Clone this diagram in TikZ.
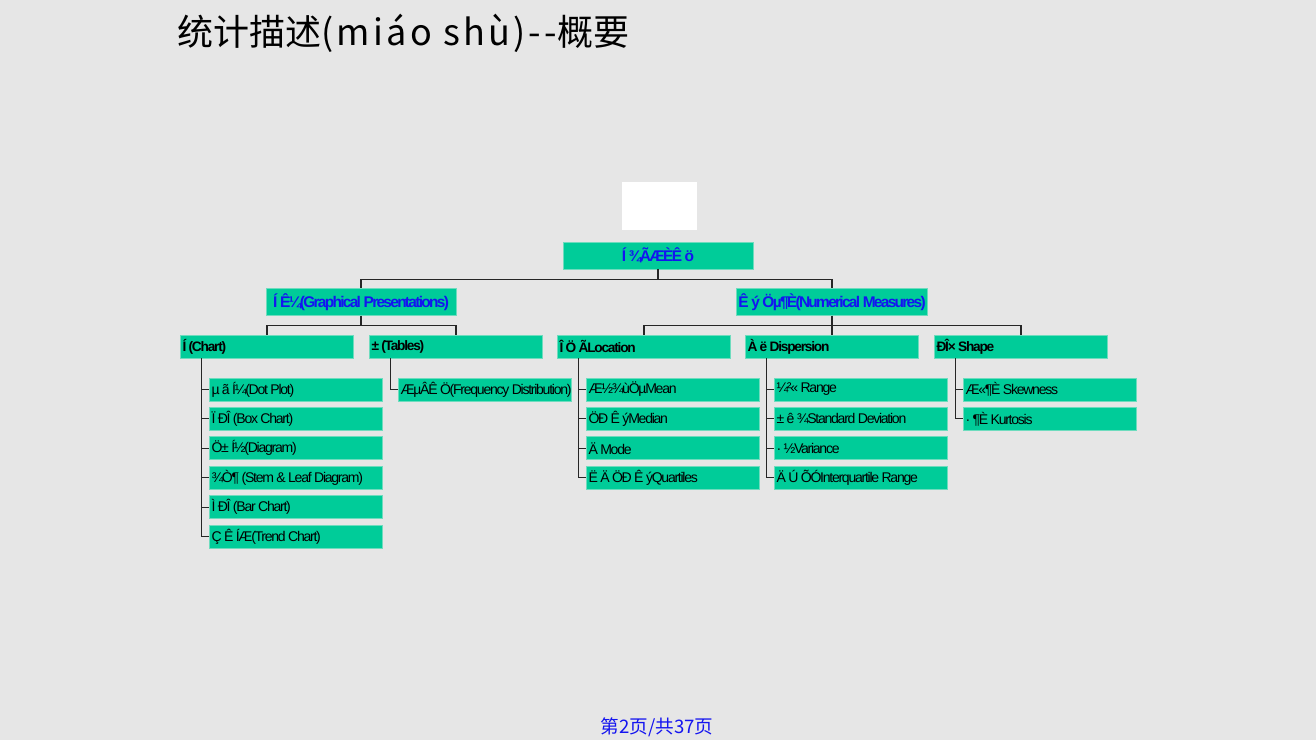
\documentclass[tikz,border=0pt]{standalone}
\usepackage{fontspec}
\setmainfont{Liberation Sans}
\newfontfamily\cjk{Noto Sans CJK SC}
\newfontfamily\cjkwide[LetterSpace=9]{Noto Sans CJK SC}
\newfontfamily\boxfont[LetterSpace=-9]{Liberation Sans}
\newfontfamily\headfont[LetterSpace=-11]{Liberation Sans}
\newcommand\tightsp{\spaceskip=0.17em\relax}
\usetikzlibrary{positioning,calc}
\definecolor{slidebg}{RGB}{230,230,230}
\definecolor{boxgreen}{RGB}{0,204,153}
\definecolor{boxedge}{RGB}{110,220,190}
\definecolor{headblue}{RGB}{20,20,240}
\tikzset{
  %% top boxes
  rootbox/.style={draw=boxedge, fill=boxgreen, line width=0.5pt,
    minimum width=3.8cm, minimum height=0.54cm, inner sep=1pt,
    font=\headfont\fontsize{8.8}{10}\selectfont\bfseries, text=headblue,
    execute at begin node=\tightsp},
  %% category boxes
  catbox/.style={draw=boxedge, fill=boxgreen, line width=0.5pt,
    minimum height=0.46cm, text width=3.38cm, inner sep=1pt, align=left,
    font=\boxfont\fontsize{7.8}{9}\selectfont\bfseries,
    execute at begin node=\tightsp},
  %% leaf boxes
  leafbox/.style={draw=boxedge, fill=boxgreen, line width=0.5pt,
    minimum height=0.46cm, text width=3.38cm, inner sep=1pt, align=left,
    font=\boxfont\fontsize{8}{9}\selectfont,
    execute at begin node=\tightsp},
  tree/.style={draw=black!85, line width=0.6pt},
}
\begin{document}
\begin{tikzpicture}[x=0.02cm, y=-0.02cm]
\fill[slidebg] (0,0) rectangle (1316,740);

%% Title
\node[anchor=west, font=\cjk\fontsize{20.5}{24}\selectfont, inner sep=0pt] (title) at (177,33)
  {统计描述{\cjkwide(miáo shù)--}概要};

%% blank picture placeholder
\node[fill=white, minimum width=1.5cm, minimum height=0.96cm, inner sep=0pt] (blank) at (659.5,206) {};

%% Root and first level
\node[rootbox] (root) at (658,255.5) {Í ¾ÃÆÈÊ ö};
\node[rootbox] (graph) at (361,302) {Í Ê¼(Graphical Presentations)};
\node[rootbox] (num) at (832,302) {Ê ý Öµ¶È(Numerical Measures)};

\draw[tree] (root.south) -- ++(0,10) -| (graph.north);
\draw[tree] (root.south) -- ++(0,10) -| (num.north);

%% Second level
\node[catbox] (chart) at (267,346.5) {Í (Chart)};
\node[catbox] (tables) at (456,346.5) {± (Tables)};
\node[catbox] (loc) at (644,346.5) {Î Ö ÃLocation};
\node[catbox] (disp) at (832,346.5) {À ë Dispersion};
\node[catbox] (shape) at (1021,346.5) {ÐÎ× Shape};

\foreach \c in {chart,tables}
  \draw[tree] (graph.south) -- ++(0,10) -| (\c.north);
\foreach \c in {loc,disp,shape}
  \draw[tree] (num.south) -- ++(0,10) -| (\c.north);

%% Chart leaves
\node[leafbox] (dot)   at (296,389.5) {µ ã Í¼(Dot Plot)};
\node[leafbox] (boxc)  at (296,418.9) {Ï ÐÎ (Box Chart)};
\node[leafbox] (hist)  at (296,448.3) {Ö± Í½(Diagram)};
\node[leafbox] (stem)  at (296,477.7) {¾Ò¶ (Stem \& Leaf Diagram)};
\node[leafbox] (bar)   at (296,507.1) {Ì ÐÎ (Bar Chart)};
\node[leafbox] (trend) at (296,536.5) {Ç Ê ÍÆ(Trend Chart)};
\foreach \l in {dot,boxc,hist,stem,bar,trend}
  \draw[tree] ([xshift=0.42cm]chart.south west) |- (\l.west);

%% Tables leaf
\node[leafbox] (freq) at (485,389.5) {\mbox{ÆµÂÊ Ö(Frequency Distribution)}};
\draw[tree] ([xshift=0.42cm]tables.south west) |- (freq.west);

%% Location leaves
\node[leafbox] (mean)   at (673,389.5) {Æ½¾ùÖµMean};
\node[leafbox] (median) at (673,418.9) {ÖÐ Ê ýMedian};
\node[leafbox] (mode)   at (673,448.3) {Ä Mode};
\node[leafbox] (quart)  at (673,477.7) {Ë Ä ÖÐ Ê ýQuartiles};
\foreach \l in {mean,median,mode,quart}
  \draw[tree] ([xshift=0.42cm]loc.south west) |- (\l.west);

%% Dispersion leaves
\node[leafbox] (range) at (861,389.5) {¼²« Range};
\node[leafbox] (sd)    at (861,418.9) {± ê ¾Standard Deviation};
\node[leafbox] (var)   at (861,448.3) {· ½Variance};
\node[leafbox] (iqr)   at (861,477.7) {\mbox{Ä Ú ÕÓInterquartile Range}};
\foreach \l in {range,sd,var,iqr}
  \draw[tree] ([xshift=0.42cm]disp.south west) |- (\l.west);

%% Shape leaves
\node[leafbox] (skew) at (1050,389.5) {Æ«¶È Skewness};
\node[leafbox] (kurt) at (1050,418.9) {· ¶È Kurtosis};
\foreach \l in {skew,kurt}
  \draw[tree] ([xshift=0.42cm]shape.south west) |- (\l.west);

%% Footer
\node[font=\cjk\fontsize{10.6}{12}\selectfont, text=headblue, inner sep=0pt] (page) at (657,727) {第2页/共37页};
\end{tikzpicture}
\end{document}
